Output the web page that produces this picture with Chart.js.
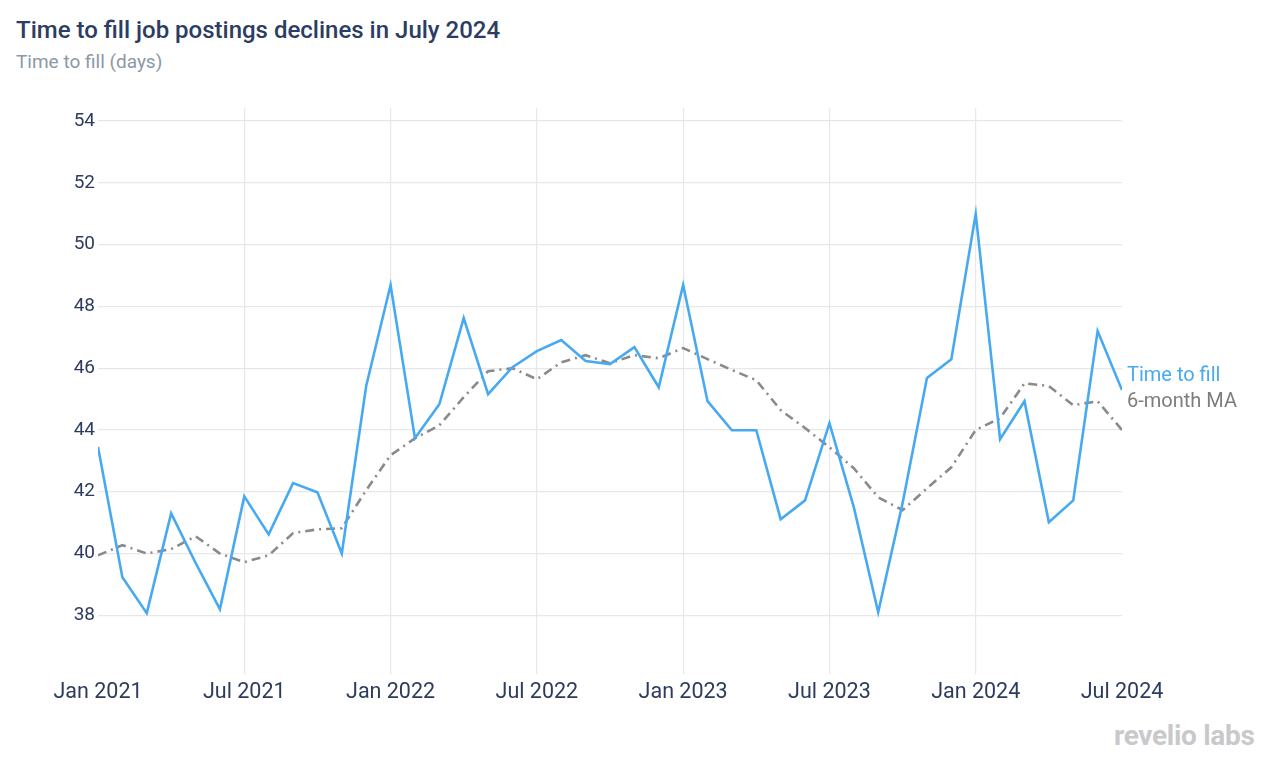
<!DOCTYPE html>
<html>
<head>
<meta charset="utf-8">
<script src="https://cdn.jsdelivr.net/npm/chart.js@4"></script>
<style>
  html, body { margin: 0; padding: 0; background: #fff; }
  body { width: 1269px; height: 759px; position: relative; overflow: hidden; font-family: Roboto, sans-serif; }
  #title { position: absolute; left: 16px; top: 16px; font-size: 24px; font-weight: 500; color: #2c3d62; }
  #subtitle { position: absolute; left: 16px; top: 50px; font-size: 19px; color: #8b98a6; }
  #brand { position: absolute; left: 1114px; top: 719px; font-size: 28px; font-weight: 700; color: #c9c9cc; letter-spacing: -0.3px; }
  #wrap { position: absolute; left: 0; top: 0; width: 1269px; height: 759px; }
</style>
</head>
<body>
<div id="title">Time to fill job postings declines in July 2024</div>
<div id="subtitle">Time to fill (days)</div>
<div id="brand">revelio labs</div>
<div id="wrap"><canvas id="chart" width="1269" height="759"></canvas></div>
<script>
// monthly values, Jan 2021 .. Jul 2024
const timeToFill = [
  43.45, 39.23, 38.07, 41.30, 39.70, 38.20, 41.85, 40.62, 42.28, 41.98, 40.00, 45.42,
  48.69, 43.73, 44.83, 47.62, 45.16, 46.03, 46.55, 46.91, 46.23, 46.13, 46.68, 45.38,
  48.69, 44.93, 43.99, 43.99, 41.11, 41.72, 44.22, 41.50, 38.10, 41.63, 45.68, 46.29,
  50.99, 43.70, 44.93, 41.01, 41.72, 47.20, 45.29
];
const movingAvg = [
  39.94, 40.27, 40.00, 40.14, 40.56, 40.00, 39.72, 39.94, 40.66, 40.78, 40.82, 42.05,
  43.18, 43.73, 44.15, 45.06, 45.90, 46.00, 45.64, 46.19, 46.42, 46.16, 46.42, 46.32,
  46.65, 46.29, 45.94, 45.61, 44.64, 44.06, 43.44, 42.76, 41.82, 41.40, 42.11, 42.79,
  44.00, 44.38, 45.51, 45.42, 44.80, 44.93, 44.00
];
const tickLabels = ["Jan 2021", "Jul 2021", "Jan 2022", "Jul 2022", "Jan 2023", "Jul 2023", "Jan 2024", "Jul 2024"];
const seriesNames = ["Time to fill", "6-month MA"];

const blue = "#47aaf0";
const grey = "#8a8a8a";
const gridCol = "#e7e7ec";
const textCol = "#2d3b5e";

const endLabels = {
  id: "endLabels",
  afterDatasetsDraw(chart) {
    const { ctx, chartArea, scales } = chart;
    const last = timeToFill.length - 1;
    const yTop = scales.y.getPixelForValue(timeToFill[last]) - 14;
    ctx.save();
    ctx.font = "20px Roboto";
    ctx.textBaseline = "middle";
    ctx.textAlign = "left";
    ctx.fillStyle = blue;
    ctx.fillText(seriesNames[0], chartArea.right + 5, yTop);
    ctx.fillStyle = "#7d7d7d";
    ctx.fillText(seriesNames[1], chartArea.right + 5, yTop + 26);
    ctx.restore();
  }
};

new Chart(document.getElementById("chart"), {
  type: "line",
  data: {
    datasets: [
      {
        label: seriesNames[0],
        data: timeToFill.map((v, i) => ({ x: i, y: v })),
        borderColor: blue,
        borderWidth: 2.6,
        pointRadius: 0,
        tension: 0
      },
      {
        label: seriesNames[1],
        data: movingAvg.map((v, i) => ({ x: i, y: v })),
        borderColor: grey,
        borderWidth: 2.6,
        borderDash: [9, 5, 2, 5],
        pointRadius: 0,
        tension: 0
      }
    ]
  },
  plugins: [endLabels],
  options: {
    responsive: false,
    animation: false,
    layout: { padding: { top: 108, right: 147, left: 0, bottom: 0 } },
    plugins: {
      legend: { display: false },
      tooltip: { enabled: false }
    },
    scales: {
      x: {
        type: "linear",
        min: 0,
        max: 42,
        afterFit: s => { s.height = 85; },
        border: { display: false },
        grid: {
          color: c => (c.tick && (c.tick.value === 0 || c.tick.value === 42)) ? "rgba(0,0,0,0)" : gridCol,
          lineWidth: 1.2,
          drawTicks: false
        },
        ticks: {
          stepSize: 6,
          padding: 6,
          maxRotation: 0,
          color: textCol,
          font: { family: "Roboto", size: 21.5 },
          callback: v => tickLabels[v / 6]
        }
      },
      y: {
        min: 36.1,
        max: 54.42,
        afterFit: s => { s.width = 98; },
        border: { display: false },
        grid: { color: gridCol, lineWidth: 1.2, drawTicks: false },
        ticks: {
          stepSize: 2,
          includeBounds: false,
          padding: 3,
          color: textCol,
          font: { family: "Roboto", size: 19 }
        }
      }
    }
  }
});
</script>
</body>
</html>
